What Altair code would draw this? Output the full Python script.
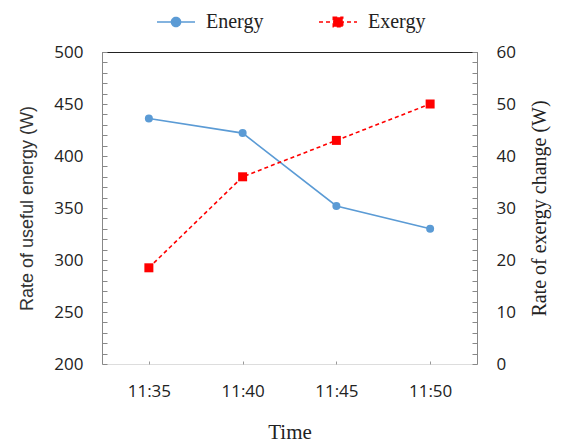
import altair as alt
import pandas as pd

times = ["11:35", "11:40", "11:45", "11:50"]
energy = [436, 422, 352, 330]
exergy = [18.5, 36, 43, 50]
series_names = ["Energy", "Exergy"]
series_colors = ["#5B9BD5", "#FF0000"]

rows = []
for t, v in zip(times, energy):
    rows.append({"time": t, "series": "Energy", "value": v})
for t, v in zip(times, exergy):
    rows.append({"time": t, "series": "Exergy", "value": v})
df = pd.DataFrame(rows)

base = alt.Chart(df)

legend_paths = [
    "M-1,0L1,0M-0.24,0A0.24,0.24,0,1,0,0.24,0A0.24,0.24,0,1,0,-0.24,0Z",
    "M-1,0L1,0M-0.25,-0.25L0.25,-0.25L0.25,0.25L-0.25,0.25Z",
]

legend = alt.Legend(
    orient="none", direction="horizontal", legendX=54, legendY=-50,
    title=None, symbolSize=1444, symbolStrokeWidth=1.5, symbolOpacity=1,
    labelFont="Liberation Serif", labelFontSize=20,
    labelColor="#222", labelOffset=10, columnPadding=52, padding=0,
)

tick_font = "Open Sans"
tick_size = 17
tick_color = "#222"

x_bottom = alt.X("time:O", scale=alt.Scale(type="point", padding=0.5),
                 axis=alt.Axis(orient="bottom", domain=False, ticks=True, tickSize=3,
                               tickColor="#999", offset=-3, labelAngle=0,
                               labelFont=tick_font, labelFontSize=tick_size, labelColor=tick_color,
                               labelPadding=19, title="Time", titleFont="Liberation Serif",
                               titleFontSize=21, titleFontWeight="normal", titleColor="#222",
                               titlePadding=22, grid=False))
x_top = alt.X("time:O", scale=alt.Scale(type="point", padding=0.5),
              axis=alt.Axis(orient="top", domain=True, domainColor="#222", domainWidth=1.2,
                            ticks=False, labels=False, title=None, grid=False))
x_none = alt.X("time:O", scale=alt.Scale(type="point", padding=0.5), axis=None)

e_scale = alt.Scale(domain=[200, 500], nice=False, zero=False)
x_scale = alt.Scale(domain=[0, 60], nice=False)

energy_main = base.transform_filter(alt.datum.series == "Energy").mark_line(
    strokeWidth=1.6, color=series_colors[0],
    point=alt.OverlayMarkDef(filled=True, shape="circle", size=64, opacity=1,
                             color=series_colors[0]),
).encode(
    x=x_bottom,
    y=alt.Y("value:Q", scale=e_scale,
            axis=alt.Axis(orient="left", values=list(range(200, 501, 50)), ticks=False,
                          tickSize=0, domain=True, domainColor="#888", labelFont=tick_font,
                          labelFontSize=tick_size, labelColor=tick_color, labelPadding=19,
                          title="Rate of useful energy (W)", titleFont="Liberation Sans",
                          titleFontSize=18, titleFontWeight="normal", titleColor="#333",
                          titlePadding=17, grid=False)),
)
energy_ticks = base.transform_filter(alt.datum.series == "Energy").mark_point(opacity=0).encode(
    x=x_top,
    y=alt.Y("value:Q", scale=e_scale,
            axis=alt.Axis(orient="left", values=list(range(200, 501, 10)), labels=False,
                          domain=False, ticks=True, tickSize=5, tickColor="#888",
                          offset=-5, title=None, grid=False)),
)
energy_layer = alt.layer(energy_main, energy_ticks).resolve_axis(x="independent", y="independent")

exergy_main = base.transform_filter(alt.datum.series == "Exergy").mark_line(
    strokeWidth=1.6, strokeDash=[4, 3], color=series_colors[1],
    point=alt.OverlayMarkDef(filled=True, shape="square", size=81, opacity=1,
                             color=series_colors[1]),
).encode(
    x=x_none,
    y=alt.Y("value:Q", scale=x_scale,
            axis=alt.Axis(orient="right", values=list(range(0, 61, 10)), ticks=False,
                          tickSize=0, domain=True, domainColor="#888", labelFont=tick_font,
                          labelFontSize=tick_size, labelColor=tick_color, labelPadding=19,
                          title="Rate of exergy change (W)", titleFont="Liberation Serif",
                          titleFontSize=20, titleFontWeight="normal", titleColor="#222",
                          titleAngle=270, titleBaseline="top", titlePadding=14, grid=False)),
)
exergy_ticks = base.transform_filter(alt.datum.series == "Exergy").mark_point(opacity=0).encode(
    x=x_none,
    y=alt.Y("value:Q", scale=x_scale,
            axis=alt.Axis(orient="right", values=list(range(0, 61, 2)), labels=False,
                          domain=False, ticks=True, tickSize=5, tickColor="#888",
                          offset=-5, title=None, grid=False)),
)
exergy_layer = alt.layer(exergy_main, exergy_ticks).resolve_axis(y="independent")

legend_layer = base.transform_filter(alt.datum.value < -1000).mark_point(
    size=1444, strokeWidth=1.5, opacity=1, fillOpacity=1
).encode(
    shape=alt.Shape("series:N", scale=alt.Scale(domain=series_names, range=legend_paths),
                    legend=legend),
    fill=alt.Fill("series:N", scale=alt.Scale(domain=series_names, range=series_colors),
                  legend=legend),
    stroke=alt.Stroke("series:N", scale=alt.Scale(domain=series_names, range=series_colors),
                      legend=legend),
    strokeDash=alt.StrokeDash("series:N",
                              scale=alt.Scale(domain=series_names, range=[[1, 0], [4, 3]]),
                              legend=legend),
)

chart = alt.layer(energy_layer, exergy_layer, legend_layer).resolve_scale(y="independent").properties(
    width=375, height=312,
    autosize=alt.AutoSizeParams(type="none"),
    padding={"left": 94, "top": 44, "right": 77, "bottom": 78},
).configure_view(stroke=None).configure(background="white")

chart.save("out.html", embed_options={"renderer": "svg", "actions": False})
